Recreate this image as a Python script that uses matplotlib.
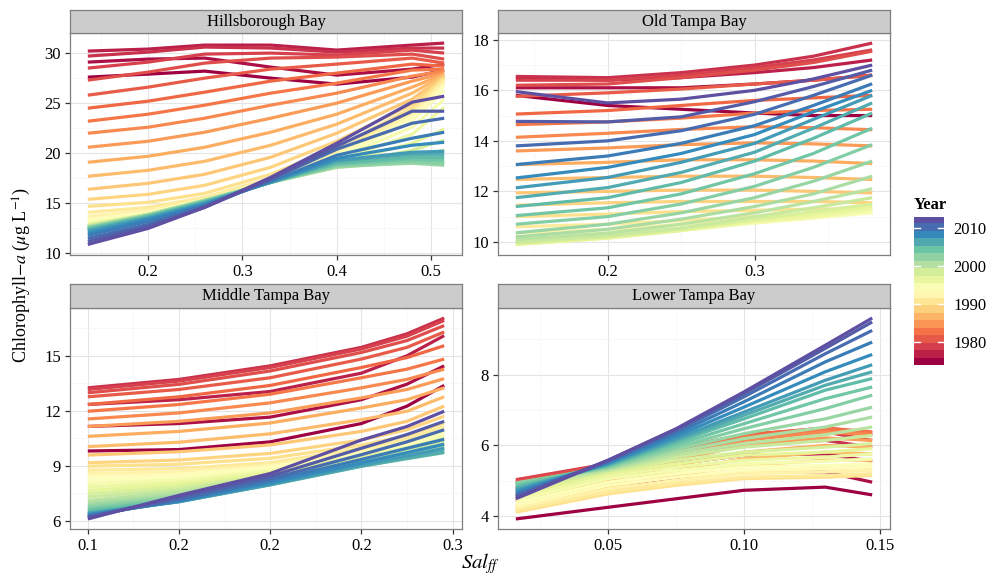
import matplotlib
matplotlib.use("Agg")
import matplotlib.pyplot as plt
import numpy as np

plt.rcParams['font.family'] = ['Liberation Serif', 'DejaVu Serif']
plt.rcParams['mathtext.fontset'] = 'stix'

W, H = 996, 577

years = list(range(1975, 2013))

# salinity knots and chlorophyll per year (rows: 1975 ... 2012)
hills_x = [0.136, 0.20, 0.26, 0.33, 0.40, 0.48, 0.514]
hills_chl = [
    [27.6, 27.9, 28.2, 27.5, 26.9, 27.6, 28.3],
    [29.1, 29.4, 29.5, 28.6, 27.8, 28.4, 28.9],
    [30.2, 30.4, 30.8, 30.8, 30.3, 30.8, 31.0],
    [29.7, 30.1, 30.6, 30.5, 30.1, 30.5, 30.5],
    [28.5, 29.1, 29.9, 30.0, 29.8, 30.3, 30.0],
    [27.3, 28.1, 29.0, 29.5, 29.6, 29.9, 29.4],
    [25.8, 26.6, 27.5, 28.4, 28.9, 29.5, 29.0],
    [24.5, 25.2, 26.1, 27.2, 28.0, 28.9, 28.7],
    [23.2, 23.9, 24.8, 26.0, 27.0, 28.3, 28.4],
    [22.0, 22.6, 23.5, 24.8, 26.0, 27.7, 28.2],
    [20.6, 21.2, 22.1, 23.5, 25.0, 27.2, 28.0],
    [19.1, 19.7, 20.6, 22.1, 23.9, 26.6, 27.9],
    [17.7, 18.3, 19.2, 20.8, 22.9, 26.0, 27.8],
    [16.4, 17.0, 17.9, 19.6, 22.0, 25.4, 27.7],
    [15.4, 15.9, 16.8, 18.6, 21.2, 24.9, 27.6],
    [14.7, 15.1, 16.0, 17.9, 20.6, 24.5, 27.5],
    [14.1, 14.6, 15.6, 17.5, 20.2, 24.1, 27.3],
    [13.7, 14.3, 15.4, 17.3, 20.0, 23.9, 27.1],
    [13.4, 14.1, 15.3, 17.2, 19.8, 23.6, 26.8],
    [13.2, 14.0, 15.3, 17.1, 19.6, 23.2, 26.3],
    [13.0, 13.9, 15.2, 17.1, 19.4, 22.6, 25.4],
    [12.9, 13.9, 15.2, 17.1, 19.2, 21.9, 24.6],
    [12.8, 13.9, 15.2, 17.1, 19.0, 21.0, 22.4],
    [12.8, 13.9, 15.2, 17.1, 18.8, 20.3, 21.3],
    [12.7, 13.9, 15.3, 17.1, 18.7, 19.7, 20.3],
    [12.7, 13.9, 15.3, 17.1, 18.6, 19.3, 19.6],
    [12.6, 13.8, 15.3, 17.1, 18.6, 19.1, 19.1],
    [12.6, 13.8, 15.3, 17.1, 18.7, 19.0, 18.8],
    [12.5, 13.8, 15.2, 17.1, 18.8, 19.2, 19.0],
    [12.5, 13.7, 15.2, 17.1, 18.9, 19.4, 19.3],
    [12.4, 13.7, 15.1, 17.1, 19.0, 19.6, 19.6],
    [12.3, 13.6, 15.1, 17.1, 19.2, 19.9, 19.9],
    [12.2, 13.5, 15.0, 17.1, 19.3, 20.1, 20.2],
    [12.0, 13.4, 14.9, 17.2, 19.5, 20.8, 21.1],
    [11.8, 13.2, 14.8, 17.2, 19.8, 21.5, 22.1],
    [11.5, 12.9, 14.7, 17.4, 20.4, 23.0, 23.5],
    [11.2, 12.7, 14.6, 17.4, 20.7, 24.2, 24.2],
    [10.9, 12.5, 14.6, 17.6, 21.0, 25.1, 25.7],
]

old_x = [0.1375, 0.20, 0.25, 0.30, 0.34, 0.38]
old_chl = [
    [15.80, 15.40, 15.25, 15.10, 15.00, 15.00],
    [16.10, 16.10, 16.10, 16.25, 16.40, 16.60],
    [16.50, 16.40, 16.50, 16.70, 16.90, 17.20],
    [16.55, 16.50, 16.70, 17.00, 17.35, 17.87],
    [16.40, 16.40, 16.60, 16.90, 17.20, 17.60],
    [16.20, 16.25, 16.50, 16.80, 17.10, 17.55],
    [15.76, 15.90, 16.05, 16.25, 16.40, 16.60],
    [15.06, 15.20, 15.40, 15.60, 15.70, 15.80],
    [14.64, 14.75, 14.90, 15.10, 15.20, 15.25],
    [14.14, 14.30, 14.45, 14.56, 14.52, 14.44],
    [13.60, 13.72, 13.85, 13.92, 13.88, 13.80],
    [13.06, 13.15, 13.25, 13.25, 13.20, 13.10],
    [12.47, 12.55, 12.60, 12.60, 12.55, 12.47],
    [11.94, 12.00, 12.05, 12.05, 12.00, 11.94],
    [11.45, 11.55, 11.60, 11.60, 11.60, 11.55],
    [11.00, 11.10, 11.20, 11.25, 11.30, 11.30],
    [10.60, 10.70, 10.85, 11.00, 11.10, 11.20],
    [10.35, 10.50, 10.70, 10.90, 11.05, 11.20],
    [10.20, 10.35, 10.55, 10.80, 11.00, 11.15],
    [10.05, 10.25, 10.50, 10.75, 10.95, 11.15],
    [9.95, 10.20, 10.45, 10.75, 10.95, 11.20],
    [9.90, 10.15, 10.45, 10.80, 11.00, 11.30],
    [9.90, 10.15, 10.45, 10.85, 11.10, 11.40],
    [9.95, 10.20, 10.50, 10.90, 11.20, 11.50],
    [10.00, 10.25, 10.55, 11.00, 11.35, 11.75],
    [10.10, 10.35, 10.70, 11.15, 11.60, 12.10],
    [10.20, 10.50, 10.90, 11.40, 11.90, 12.60],
    [10.36, 10.70, 11.15, 11.75, 12.40, 13.20],
    [10.70, 11.00, 11.50, 12.20, 12.95, 13.85],
    [11.04, 11.35, 11.90, 12.70, 13.50, 14.50],
    [11.40, 11.75, 12.35, 13.20, 14.10, 15.10],
    [11.75, 12.15, 12.75, 13.55, 14.50, 15.50],
    [12.14, 12.55, 13.15, 13.90, 14.85, 15.80],
    [12.53, 12.95, 13.50, 14.25, 15.15, 16.00],
    [13.06, 13.40, 13.90, 14.60, 15.40, 16.26],
    [13.80, 14.00, 14.40, 15.05, 15.80, 16.60],
    [14.77, 14.75, 14.95, 15.55, 16.15, 16.80],
    [15.95, 15.50, 15.65, 16.00, 16.45, 17.00],
]

mid_x = [0.10, 0.15, 0.20, 0.25, 0.275, 0.2954]
mid_chl = [
    [9.80, 9.88, 10.30, 11.30, 12.25, 13.38],
    [11.14, 11.30, 11.65, 12.60, 13.45, 14.45],
    [12.34, 12.60, 13.05, 14.05, 15.00, 16.10],
    [13.25, 13.71, 14.45, 15.46, 16.20, 17.06],
    [13.16, 13.62, 14.36, 15.37, 16.07, 16.93],
    [12.98, 13.44, 14.17, 15.18, 15.83, 16.65],
    [12.76, 13.16, 13.80, 14.82, 15.46, 16.30],
    [12.34, 12.76, 13.38, 14.36, 14.90, 15.55],
    [11.97, 12.34, 12.90, 13.80, 14.27, 14.82],
    [11.55, 11.88, 12.43, 13.25, 13.71, 14.27],
    [11.14, 11.42, 11.88, 12.70, 13.16, 13.75],
    [10.60, 10.87, 11.33, 12.15, 12.60, 13.25],
    [10.04, 10.28, 10.74, 11.51, 11.97, 12.76],
    [9.58, 9.76, 10.13, 10.87, 11.42, 12.25],
    [9.16, 9.31, 9.67, 10.40, 10.96, 11.70],
    [8.97, 9.08, 9.40, 10.13, 10.63, 11.33],
    [8.75, 8.84, 9.16, 9.95, 10.44, 11.14],
    [8.57, 8.66, 9.03, 9.82, 10.32, 10.96],
    [8.39, 8.53, 8.94, 9.71, 10.19, 10.81],
    [8.20, 8.39, 8.85, 9.64, 10.10, 10.68],
    [8.02, 8.24, 8.75, 9.54, 10.00, 10.59],
    [7.84, 8.11, 8.66, 9.49, 9.95, 10.50],
    [7.65, 7.98, 8.57, 9.43, 9.89, 10.41],
    [7.47, 7.84, 8.48, 9.36, 9.82, 10.32],
    [7.29, 7.69, 8.39, 9.31, 9.76, 10.22],
    [7.10, 7.56, 8.31, 9.23, 9.71, 10.13],
    [6.95, 7.43, 8.24, 9.18, 9.64, 10.04],
    [6.83, 7.32, 8.17, 9.12, 9.56, 9.95],
    [6.70, 7.23, 8.09, 9.07, 9.49, 9.86],
    [6.59, 7.14, 8.02, 9.01, 9.43, 9.78],
    [6.50, 7.06, 7.96, 8.97, 9.38, 9.71],
    [6.42, 7.03, 7.95, 8.97, 9.42, 9.76],
    [6.37, 7.03, 7.98, 9.05, 9.53, 9.95],
    [6.31, 7.05, 8.06, 9.16, 9.71, 10.17],
    [6.26, 7.10, 8.17, 9.34, 9.95, 10.44],
    [6.22, 7.17, 8.28, 9.60, 10.30, 10.96],
    [6.16, 7.29, 8.42, 9.95, 10.70, 11.42],
    [6.09, 7.38, 8.57, 10.40, 11.14, 11.97],
]

low_x = [0.016, 0.05, 0.075, 0.10, 0.13, 0.1473]
low_chl = [
    [3.92, 4.25, 4.49, 4.73, 4.82, 4.60],
    [4.44, 4.82, 5.06, 5.25, 5.25, 4.96],
    [4.77, 5.20, 5.48, 5.72, 5.76, 5.55],
    [4.94, 5.39, 5.76, 6.05, 6.14, 5.95],
    [5.03, 5.48, 5.91, 6.24, 6.38, 6.14],
    [4.98, 5.45, 5.92, 6.30, 6.47, 6.28],
    [4.92, 5.42, 5.91, 6.30, 6.49, 6.36],
    [4.79, 5.34, 5.86, 6.28, 6.49, 6.38],
    [4.68, 5.26, 5.79, 6.24, 6.45, 6.36],
    [4.58, 5.20, 5.70, 6.14, 6.38, 6.30],
    [4.49, 5.10, 5.58, 6.00, 6.21, 6.14],
    [4.40, 5.01, 5.43, 5.81, 6.00, 5.95],
    [4.30, 4.92, 5.29, 5.62, 5.81, 5.76],
    [4.21, 4.82, 5.15, 5.43, 5.58, 5.58],
    [4.16, 4.73, 5.01, 5.25, 5.34, 5.39],
    [4.11, 4.63, 4.87, 5.06, 5.10, 5.15],
    [4.16, 4.68, 4.92, 5.10, 5.15, 5.20],
    [4.23, 4.77, 5.01, 5.20, 5.25, 5.29],
    [4.30, 4.87, 5.10, 5.29, 5.34, 5.39],
    [4.38, 4.96, 5.20, 5.39, 5.43, 5.48],
    [4.46, 5.06, 5.29, 5.48, 5.55, 5.62],
    [4.54, 5.13, 5.39, 5.58, 5.67, 5.76],
    [4.63, 5.20, 5.48, 5.72, 5.81, 5.91],
    [4.72, 5.25, 5.58, 5.81, 5.95, 6.05],
    [4.79, 5.29, 5.67, 5.95, 6.14, 6.28],
    [4.87, 5.32, 5.74, 6.05, 6.30, 6.52],
    [4.92, 5.34, 5.81, 6.19, 6.52, 6.80],
    [4.94, 5.36, 5.89, 6.33, 6.75, 7.08],
    [4.92, 5.39, 5.95, 6.47, 7.04, 7.42],
    [4.87, 5.42, 6.02, 6.61, 7.32, 7.65],
    [4.82, 5.43, 6.09, 6.75, 7.56, 7.89],
    [4.77, 5.46, 6.14, 6.85, 7.70, 8.08],
    [4.73, 5.48, 6.19, 6.94, 7.84, 8.28],
    [4.68, 5.50, 6.26, 7.08, 8.08, 8.57],
    [4.63, 5.53, 6.33, 7.23, 8.36, 8.92],
    [4.58, 5.55, 6.40, 7.37, 8.59, 9.25],
    [4.54, 5.58, 6.45, 7.46, 8.74, 9.49],
    [4.49, 5.58, 6.47, 7.51, 8.83, 9.60],
]

# red for the earliest years, purple for the latest
cmap = plt.get_cmap('Spectral')
norm = plt.Normalize(min(years), max(years))


def frac(x0, y0, x1, y1):
    return [x0 / W, 1 - y1 / H, (x1 - x0) / W, (y1 - y0) / H]


fig = plt.figure(figsize=(W / 100, H / 100), dpi=100)

panels = [
    ('Hillsborough Bay', hills_x, hills_chl, (70, 33, 462, 254.5), (70, 10, 462, 33),
     [0.2, 0.3, 0.4, 0.5], ['0.2', '0.3', '0.4', '0.5'], [0.15, 0.25, 0.35, 0.45],
     [10, 15, 20, 25, 30], [12.5, 17.5, 22.5, 27.5]),
    ('Old Tampa Bay', old_x, old_chl, (498, 33, 890, 254.5), (498, 10, 890, 33),
     [0.2, 0.3], ['0.2', '0.3'], [0.15, 0.25, 0.35],
     [10, 12, 14, 16, 18], [11, 13, 15, 17]),
    ('Middle Tampa Bay', mid_x, mid_chl, (70, 308, 462, 529), (70, 284, 462, 308),
     [0.10, 0.15, 0.20, 0.25, 0.30], ['0.1', '0.2', '0.2', '0.2', '0.3'],
     [0.125, 0.175, 0.225, 0.275],
     [6, 9, 12, 15], [7.5, 10.5, 13.5, 16.5]),
    ('Lower Tampa Bay', low_x, low_chl, (498, 308, 890, 529), (498, 284, 890, 308),
     [0.05, 0.10, 0.15], ['0.05', '0.10', '0.15'], [0.025, 0.075, 0.125],
     [4, 6, 8], [5, 7, 9]),
]

for title, xs, chl, box, sbox, xt, xl, xm, yt, ym in panels:
    ax = fig.add_axes(frac(*box))
    for yr, row in zip(years, chl):
        ax.plot(xs, row, color=cmap(norm(yr)), lw=2.3,
                solid_capstyle='butt', solid_joinstyle='round')
    ax.margins(0.05)
    ax.set_xticks(xt)
    ax.set_xticklabels(xl)
    ax.set_xticks(xm, minor=True)
    ax.set_yticks(yt)
    ax.set_yticks(ym, minor=True)
    ax.grid(which='major', color='#E5E5E5', lw=0.8)
    ax.grid(which='minor', color='#F5F5F5', lw=0.5)
    ax.set_axisbelow(True)
    for s in ax.spines.values():
        s.set_color('#7F7F7F')
        s.set_linewidth(0.9)
    ax.tick_params(which='major', length=3.5, width=0.9, color='#333333',
                   labelsize=12, labelcolor='black', pad=3)
    ax.tick_params(which='minor', length=0)

    sax = fig.add_axes(frac(*sbox))
    sax.set_facecolor('#CCCCCC')
    sax.set_xticks([])
    sax.set_yticks([])
    for s in sax.spines.values():
        s.set_color('#7F7F7F')
        s.set_linewidth(0.9)
    sax.text(0.5, 0.48, title, ha='center', va='center', fontsize=12,
             transform=sax.transAxes)

# axis titles
fig.text(22 / W, 1 - 275 / H, r'Chlorophyll$-a$ ($\mu$g L$^{-1}$)',
         rotation=90, ha='center', va='center', fontsize=13)
fig.text(480 / W, 1 - 564 / H, r'$Sal_{ff}$', ha='center', va='center', fontsize=15)

# colour bar
nbin = 20
bar_vals = np.linspace(min(years), max(years), nbin)
half = (max(years) - min(years)) / (nbin - 1) / 2
cax = fig.add_axes(frac(914, 216.7, 944, 365))
cax.imshow(bar_vals.reshape(-1, 1), cmap=cmap, norm=norm, aspect='auto',
           origin='lower', interpolation='nearest',
           extent=[0, 1, min(years) - half, max(years) + half])
cax.set_xlim(0, 1)
cax.set_ylim(min(years) - half, max(years) + half)
bar_ticks = [1980, 1990, 2000, 2010]
for t in bar_ticks:
    cax.plot([0, 0.2], [t, t], color='white', lw=1)
    cax.plot([0.8, 1], [t, t], color='white', lw=1)
cax.set_xticks([])
cax.yaxis.tick_right()
cax.set_yticks(bar_ticks)
cax.set_yticklabels([str(t) for t in bar_ticks])
cax.tick_params(axis='y', length=0, labelsize=12, pad=7)
for s in cax.spines.values():
    s.set_visible(False)
fig.text(914 / W, 1 - 205 / H, 'Year', fontsize=12, fontweight='bold',
         ha='left', va='center')

fig.savefig('out.png', dpi=100)
